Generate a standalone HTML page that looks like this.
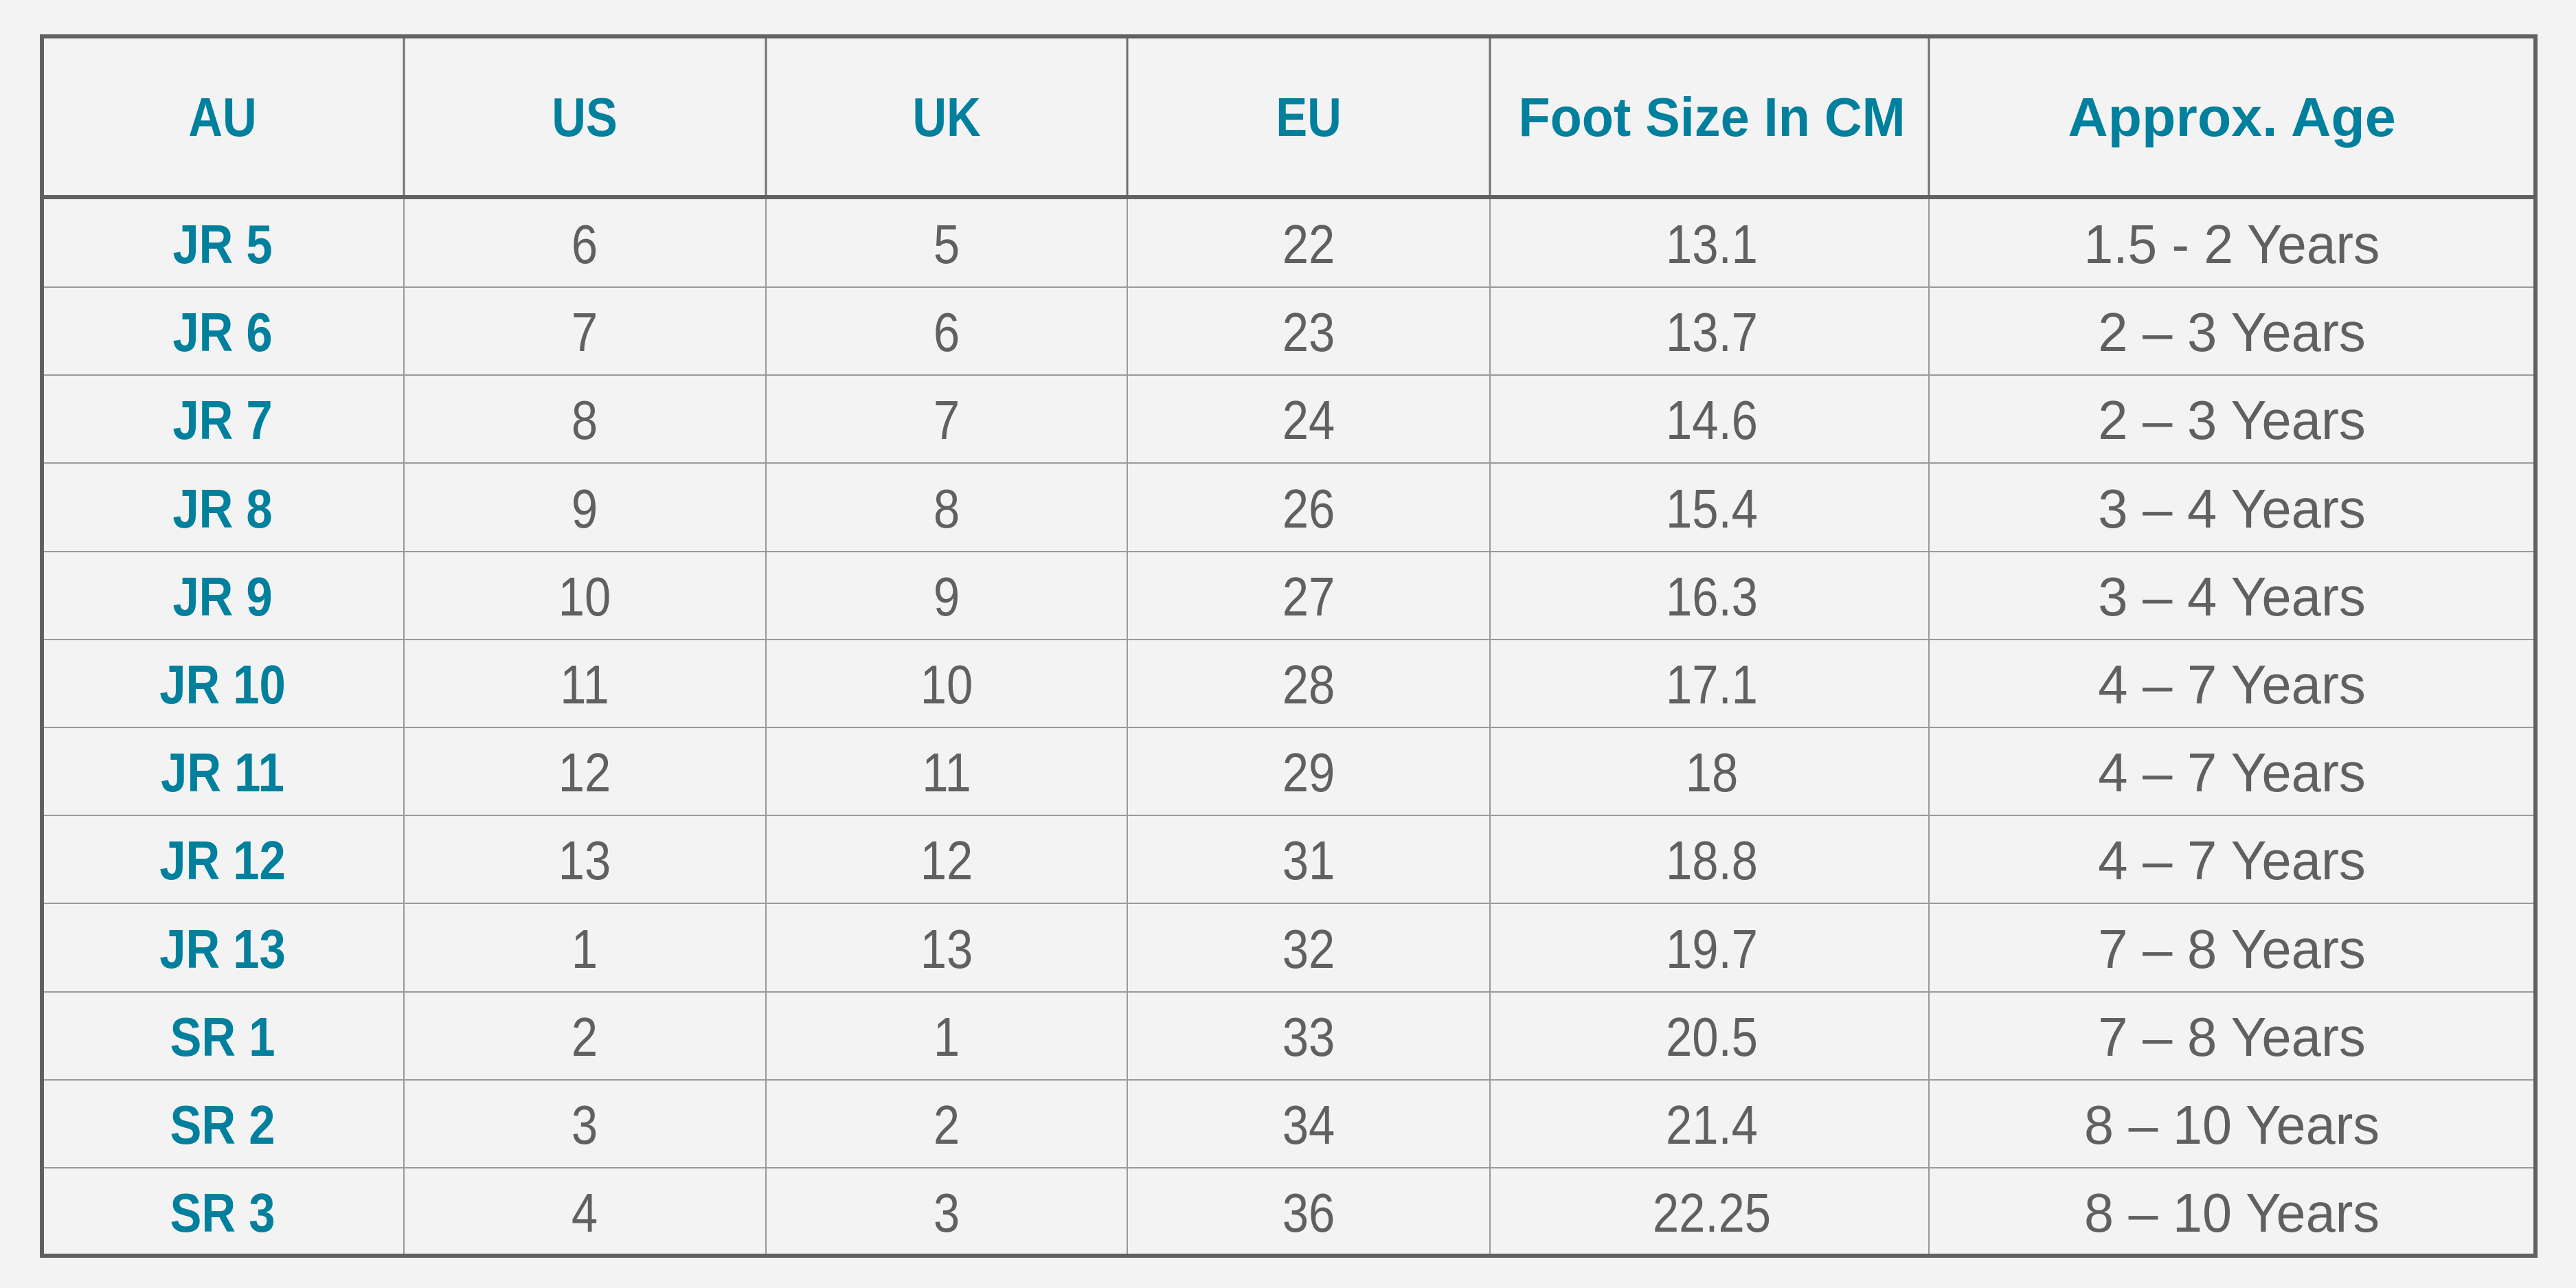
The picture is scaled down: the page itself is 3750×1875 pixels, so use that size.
<!DOCTYPE html>
<html><head><meta charset="utf-8"><style>
html,body{margin:0;padding:0;background:#f3f3f3;}
svg{display:block}
text{transform-box:fill-box;transform-origin:center;transform:scaleX(0.86)}
.h{font-family:"Liberation Sans",sans-serif;font-weight:bold;font-size:80px;fill:#00809d;text-anchor:middle}
.a{font-family:"Liberation Sans",sans-serif;font-weight:bold;font-size:80px;fill:#00809d;text-anchor:middle}
.b{font-family:"Liberation Sans",sans-serif;font-size:80px;fill:#5f6060;text-anchor:middle}
</style></head><body>
<svg width="3750" height="1875" xmlns="http://www.w3.org/2000/svg">
<rect width="3750" height="1875" fill="#f3f3f3"/>
<g stroke="#9a9a9a" stroke-width="2">
<line x1="60" y1="418" x2="3692" y2="418"/>
<line x1="60" y1="546" x2="3692" y2="546"/>
<line x1="60" y1="674" x2="3692" y2="674"/>
<line x1="60" y1="803" x2="3692" y2="803"/>
<line x1="60" y1="931" x2="3692" y2="931"/>
<line x1="60" y1="1059" x2="3692" y2="1059"/>
<line x1="60" y1="1187" x2="3692" y2="1187"/>
<line x1="60" y1="1315" x2="3692" y2="1315"/>
<line x1="60" y1="1444" x2="3692" y2="1444"/>
<line x1="60" y1="1572" x2="3692" y2="1572"/>
<line x1="60" y1="1700" x2="3692" y2="1700"/>
<line x1="588" y1="290" x2="588" y2="1828"/>
<line x1="1115" y1="290" x2="1115" y2="1828"/>
<line x1="1641" y1="290" x2="1641" y2="1828"/>
<line x1="2169" y1="290" x2="2169" y2="1828"/>
<line x1="2808" y1="290" x2="2808" y2="1828"/>
</g>
<g stroke="#707070" stroke-width="3">
<line x1="588" y1="56" x2="588" y2="287"/>
<line x1="1115" y1="56" x2="1115" y2="287"/>
<line x1="1641" y1="56" x2="1641" y2="287"/>
<line x1="2169" y1="56" x2="2169" y2="287"/>
<line x1="2808" y1="56" x2="2808" y2="287"/>
</g>
<rect x="61" y="284" width="3630" height="6" fill="#606261"/>
<rect x="61" y="53" width="3630" height="1775" fill="none" stroke="#606261" stroke-width="6"/>
<g class="h">
<text x="324" y="198">AU</text>
<text x="851" y="198">US</text>
<text x="1378" y="198">UK</text>
<text x="1905" y="198">EU</text>
<text x="2492" y="198" textLength="655" lengthAdjust="spacingAndGlyphs">Foot Size In CM</text>
<text x="3249" y="198" textLength="555" lengthAdjust="spacingAndGlyphs">Approx. Age</text>
</g>
<g class="a">
<text x="324" y="383">JR 5</text><text x="324" y="511">JR 6</text><text x="324" y="639">JR 7</text><text x="324" y="768">JR 8</text><text x="324" y="896">JR 9</text><text x="324" y="1024">JR 10</text><text x="324" y="1152">JR 11</text><text x="324" y="1280">JR 12</text><text x="324" y="1409">JR 13</text><text x="324" y="1537">SR 1</text><text x="324" y="1665">SR 2</text><text x="324" y="1793">SR 3</text>
</g>
<g class="b">
<text x="851" y="383">6</text><text x="851" y="511">7</text><text x="851" y="639">8</text><text x="851" y="768">9</text><text x="851" y="896">10</text><text x="851" y="1024">11</text><text x="851" y="1152">12</text><text x="851" y="1280">13</text><text x="851" y="1409">1</text><text x="851" y="1537">2</text><text x="851" y="1665">3</text><text x="851" y="1793">4</text>
<text x="1378" y="383">5</text><text x="1378" y="511">6</text><text x="1378" y="639">7</text><text x="1378" y="768">8</text><text x="1378" y="896">9</text><text x="1378" y="1024">10</text><text x="1378" y="1152">11</text><text x="1378" y="1280">12</text><text x="1378" y="1409">13</text><text x="1378" y="1537">1</text><text x="1378" y="1665">2</text><text x="1378" y="1793">3</text>
<text x="1905" y="383">22</text><text x="1905" y="511">23</text><text x="1905" y="639">24</text><text x="1905" y="768">26</text><text x="1905" y="896">27</text><text x="1905" y="1024">28</text><text x="1905" y="1152">29</text><text x="1905" y="1280">31</text><text x="1905" y="1409">32</text><text x="1905" y="1537">33</text><text x="1905" y="1665">34</text><text x="1905" y="1793">36</text>
<text x="2492" y="383">13.1</text><text x="2492" y="511">13.7</text><text x="2492" y="639">14.6</text><text x="2492" y="768">15.4</text><text x="2492" y="896">16.3</text><text x="2492" y="1024">17.1</text><text x="2492" y="1152">18</text><text x="2492" y="1280">18.8</text><text x="2492" y="1409">19.7</text><text x="2492" y="1537">20.5</text><text x="2492" y="1665">21.4</text><text x="2492" y="1793">22.25</text>
<text x="3249" y="383" textLength="501" lengthAdjust="spacingAndGlyphs">1.5 - 2 Years</text>
<text x="3249" y="511" textLength="453" lengthAdjust="spacingAndGlyphs">2 – 3 Years</text>
<text x="3249" y="639" textLength="453" lengthAdjust="spacingAndGlyphs">2 – 3 Years</text>
<text x="3249" y="768" textLength="453" lengthAdjust="spacingAndGlyphs">3 – 4 Years</text>
<text x="3249" y="896" textLength="453" lengthAdjust="spacingAndGlyphs">3 – 4 Years</text>
<text x="3249" y="1024" textLength="453" lengthAdjust="spacingAndGlyphs">4 – 7 Years</text>
<text x="3249" y="1152" textLength="453" lengthAdjust="spacingAndGlyphs">4 – 7 Years</text>
<text x="3249" y="1280" textLength="453" lengthAdjust="spacingAndGlyphs">4 – 7 Years</text>
<text x="3249" y="1409" textLength="453" lengthAdjust="spacingAndGlyphs">7 – 8 Years</text>
<text x="3249" y="1537" textLength="453" lengthAdjust="spacingAndGlyphs">7 – 8 Years</text>
<text x="3249" y="1665" textLength="500" lengthAdjust="spacingAndGlyphs">8 – 10 Years</text>
<text x="3249" y="1793" textLength="500" lengthAdjust="spacingAndGlyphs">8 – 10 Years</text>
</g>
</svg>
</body></html>
